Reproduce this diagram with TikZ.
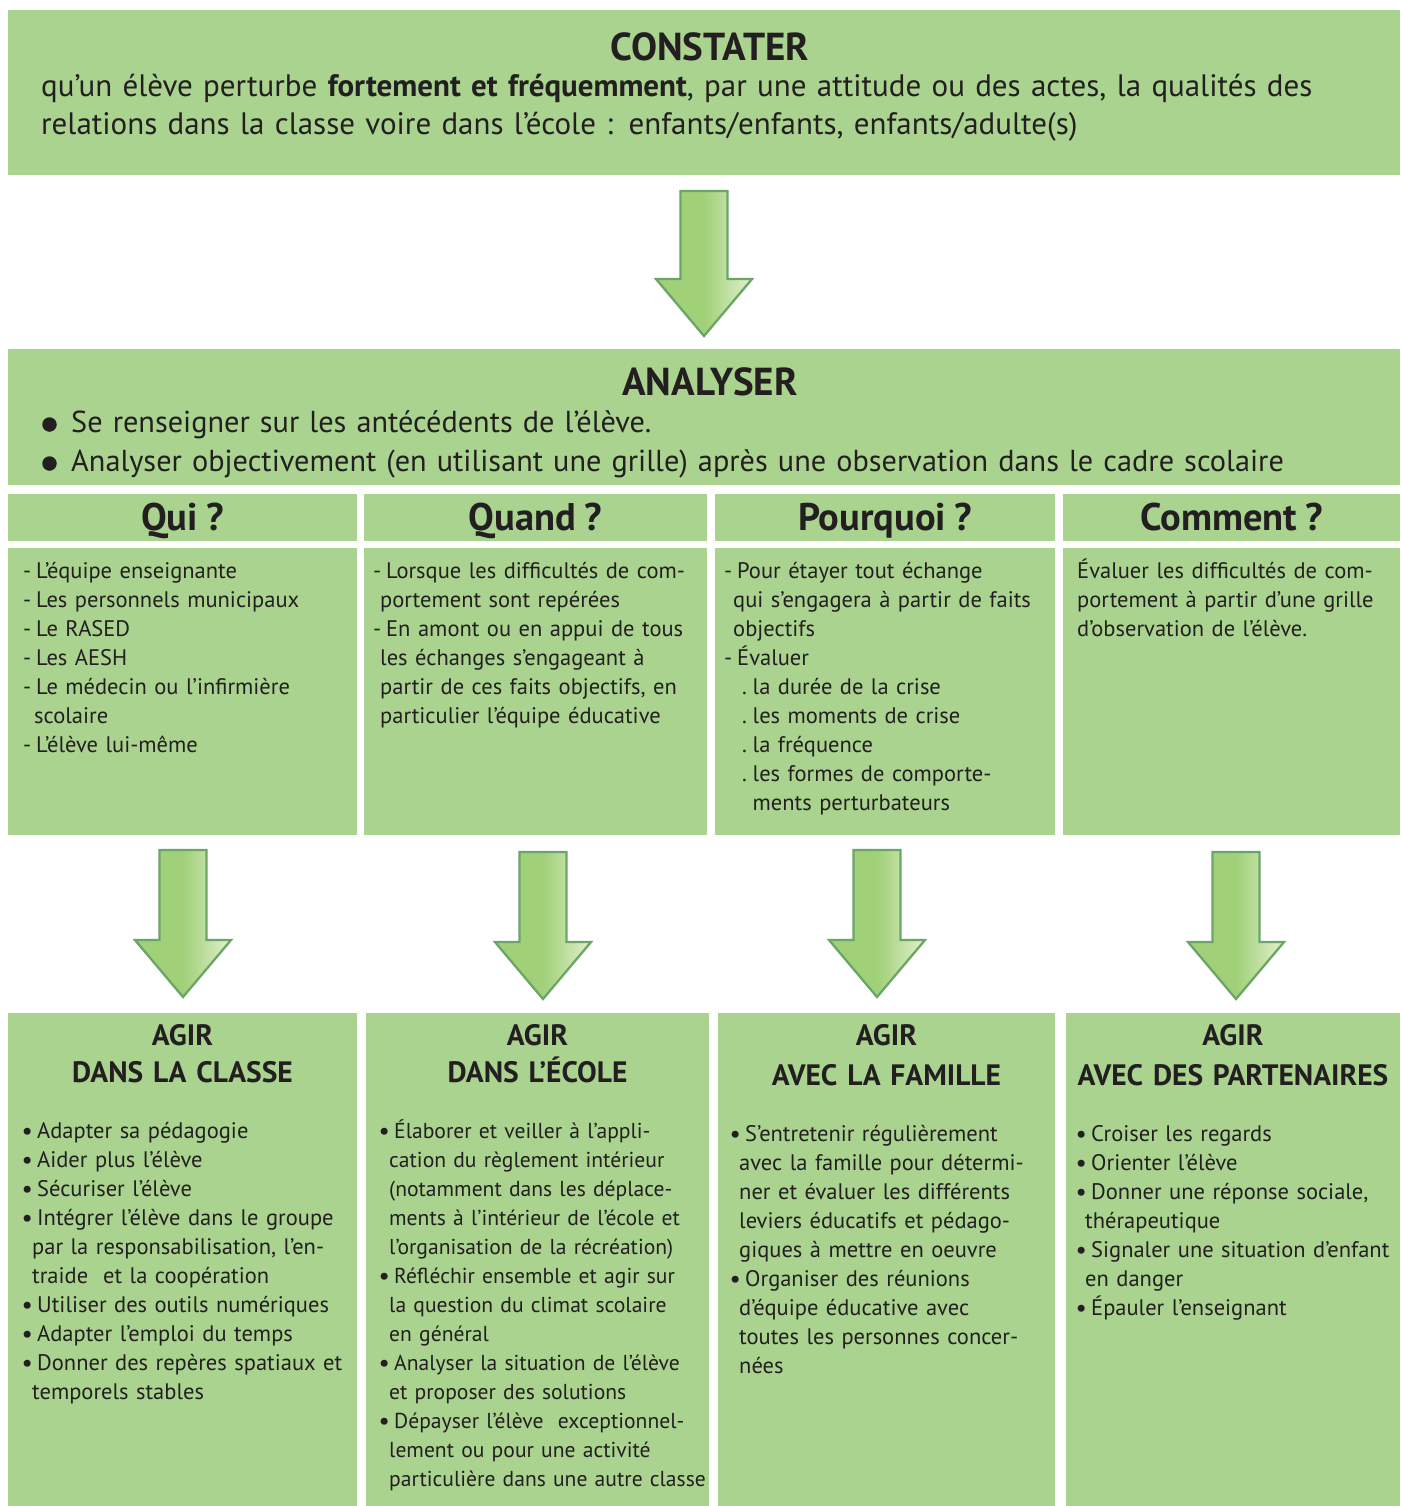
\documentclass[tikz,border=0pt]{standalone}
\usepackage{fontspec}
\setmainfont{PT Sans}[WordSpace=0.85]
\usetikzlibrary{calc,positioning}
\definecolor{boxgreen}{RGB}{169,211,142}
\definecolor{arrowgreen}{RGB}{160,208,120}
\definecolor{arrowlight}{RGB}{226,240,206}
\definecolor{arrowedge}{RGB}{108,165,104}
\definecolor{inkgray}{RGB}{35,31,32}

\newcommand{\itm}{\makebox[14pt][l]{\hspace*{-1.5pt}\raisebox{-1.5pt}{\fontsize{25}{25}\selectfont •}}}
\newcommand{\dsh}{\makebox[13pt][l]{-}}
\newcommand{\subitm}{\hspace*{18pt}\makebox[10.5pt][l]{.}}
\newcommand{\flowarrow}[2]{%
  \draw[flow arrow] ($(#1)+(-23.5,0)$) -- ($(#2)+(-23.5,-57)$) -- ($(#2)+(-48,-57)$)
    -- (#2) -- ($(#2)+(48,-57)$) -- ($(#2)+(23.5,-57)$) -- ($(#1)+(23.5,0)$) -- cycle;}

\begin{document}
\begin{tikzpicture}[x=1pt, y=-1pt,
    panel/.style={fill=boxgreen, inner sep=0pt, outer sep=0pt, anchor=north west},
    title/.style={font=\fontsize{39}{39}\selectfont\bfseries, text=inkgray, inner sep=0pt, anchor=base},
    head/.style={font=\fontsize{38.5}{38.5}\selectfont\bfseries, text=inkgray, inner sep=0pt, anchor=base},
    agir/.style={font=\fontsize{29.5}{37}\selectfont\bfseries, text=inkgray, inner sep=0pt, anchor=base, text width=330pt, align=center},
    lead/.style={text=inkgray, inner sep=0pt, anchor=base west, text width=1340pt, align=left},
    list/.style={font=\fontsize{22.5}{29}\selectfont, text=inkgray, inner sep=0pt, anchor=base west, text width=340pt, align=left},
    bigbullet/.style={circle, fill=inkgray, minimum size=14.5pt, inner sep=0pt},
    flow arrow/.style={draw=arrowedge, line width=2.3pt, line join=miter, left color=arrowgreen, right color=arrowlight, middle color=arrowgreen}
]

% Background
\fill[white] (0,0) rectangle (1400,1506);
\useasboundingbox (0,0) rectangle (1400,1506);

% === CONSTATER ===
\node[panel, minimum width=1392pt, minimum height=165pt] (constater) at (8,10) {};
\node[title] (constater title) at (710,61) {CONSTATER};
\node[lead, font=\fontsize{31}{38}\selectfont] (constater text) at (41,97) {qu’un élève perturbe \textbf{fortement et fréquemment}, par une attitude ou des actes, la qualités des\\
  relations dans la classe voire dans l’école : enfants/enfants, enfants/adulte(s)};

\coordinate (arr top) at (704,191);
\coordinate (arr tip) at (704,336);
\flowarrow{arr top}{arr tip}

% === ANALYSER ===
\node[panel, minimum width=1392pt, minimum height=136pt] (analyser) at (8,349) {};
\node[title] (analyser title) at (710,395) {ANALYSER};
\node[bigbullet] (dot a) at (49.5,424.5) {};
\node[bigbullet] (dot b) at (49.5,463.5) {};
\node[lead, font=\fontsize{30.3}{39}\selectfont] (analyser text) at (71,432) {Se renseigner sur les antécédents de l’élève.\\
  Analyser objectivement (en utilisant une grille) après une observation dans le cadre scolaire};

% Question headers
\node[panel, minimum width=349pt, minimum height=47pt] (qui) at (8,494) {};
\node[panel, minimum width=343pt, minimum height=47pt] (quand) at (364,494) {};
\node[panel, minimum width=340pt, minimum height=47pt] (pourquoi) at (715,494) {};
\node[panel, minimum width=337pt, minimum height=47pt] (comment) at (1063,494) {};
\node[head] (qui title) at ([yshift=-12.5pt]qui.center) {Qui ?};
\node[head] (quand title) at ([yshift=-12.5pt]quand.center) {Quand ?};
\node[head] (pourquoi title) at ([yshift=-12.5pt]pourquoi.center) {Pourquoi ?};
\node[head] (comment title) at ([yshift=-12.5pt]comment.center) {Comment ?};

% Question bodies
\node[panel, minimum width=349pt, minimum height=287pt] (qui body) at (8,548) {};
\node[panel, minimum width=343pt, minimum height=287pt] (quand body) at (364,548) {};
\node[panel, minimum width=340pt, minimum height=287pt] (pourquoi body) at (715,548) {};
\node[panel, minimum width=337pt, minimum height=287pt] (comment body) at (1063,548) {};

\node[list] (qui text) at (23,578) {\dsh L’équipe enseignante\\
  \dsh Les personnels municipaux\\
  \dsh Le RASED\\
  \dsh Les AESH\\
  \dsh Le médecin ou l’infirmière\\
  \hspace*{11pt}scolaire\\
  \dsh L’élève lui-même};
\node[list] (quand text) at (373,578) {\dsh Lorsque les difficultés de com-\\
  \hspace*{7pt}portement sont repérées\\
  \dsh En amont ou en appui de tous\\
  \hspace*{7pt}les échanges s’engageant à\\
  \hspace*{7pt}partir de ces faits objectifs, en\\
  \hspace*{7pt}particulier l’équipe éducative};
\node[list] (pourquoi text) at (724,578) {\dsh Pour étayer tout échange\\
  \hspace*{9pt}qui s’engagera à partir de faits\\
  \hspace*{9pt}objectifs\\
  \dsh Évaluer\\
  \subitm la durée de la crise\\
  \subitm les moments de crise\\
  \subitm la fréquence\\
  \subitm les formes de comporte-\\
  \hspace*{28.5pt}ments perturbateurs};
\node[list] (comment text) at (1077,578) {Évaluer les difficultés de com-\\
  portement à partir d’une grille\\
  d’observation de l’élève.};

% === Arrows down ===
\coordinate (arr a top) at (183,850);
\coordinate (arr a tip) at (183,997);
\coordinate (arr b top) at (543,852);
\coordinate (arr b tip) at (543,999);
\coordinate (arr c top) at (877,850);
\coordinate (arr c tip) at (877,997);
\coordinate (arr d top) at (1236,852);
\coordinate (arr d tip) at (1236,999);
\flowarrow{arr a top}{arr a tip}
\flowarrow{arr b top}{arr b tip}
\flowarrow{arr c top}{arr c tip}
\flowarrow{arr d top}{arr d tip}

% === AGIR ===
\node[panel, minimum width=349pt, minimum height=493pt] (classe) at (8,1013) {};
\node[panel, minimum width=343pt, minimum height=493pt] (ecole) at (366,1013) {};
\node[panel, minimum width=337pt, minimum height=493pt] (famille) at (718,1013) {};
\node[panel, minimum width=334pt, minimum height=493pt] (partenaires) at (1066,1013) {};
\node[agir] (classe title) at ([yshift=-32pt]classe.north) {AGIR\\DANS LA CLASSE};
\node[agir] (ecole title) at ([yshift=-32pt]ecole.north) {AGIR\\DANS L’ÉCOLE};
\node[agir] (famille title) at ([yshift=-32pt]famille.north) {AGIR\\[3pt]AVEC LA FAMILLE};
\node[agir] (partenaires title) at ([yshift=-32pt]partenaires.north) {AGIR\\[3pt]AVEC DES PARTENAIRES};

\node[list] (classe text) at (23,1138) {\itm Adapter sa pédagogie\\
  \itm Aider plus l’élève\\
  \itm Sécuriser l’élève\\
  \itm Intégrer l’élève dans le groupe\\
  \hspace*{9pt}par la responsabilisation, l’en-\\
  \hspace*{9pt}traide\ \ et la coopération\\
  \itm Utiliser des outils numériques\\
  \itm Adapter l’emploi du temps\\
  \itm Donner des repères spatiaux et\\
  \hspace*{9pt}temporels stables};
\node[list, font=\fontsize{21.6}{29}\selectfont] (ecole text) at (380,1138) {\itm Élaborer et veiller à l’appli-\\
  \hspace*{9pt}cation du règlement intérieur\\
  \hspace*{9pt}(notamment dans les déplace-\\
  \hspace*{9pt}ments à l’intérieur de l’école et\\
  \hspace*{9pt}l’organisation de la récréation)\\
  \itm Réfléchir ensemble et agir sur\\
  \hspace*{9pt}la question du climat scolaire\\
  \hspace*{9pt}en général\\
  \itm Analyser la situation de l’élève\\
  \hspace*{9pt}et proposer des solutions\\
  \itm Dépayser l’élève\ \ exceptionnel-\\
  \hspace*{9pt}lement ou pour une activité\\
  \hspace*{9pt}particulière dans une autre classe};
\node[list] (famille text) at (731,1141) {\itm S’entretenir régulièrement\\
  \hspace*{8pt}avec la famille pour détermi-\\
  \hspace*{8pt}ner et évaluer les différents\\
  \hspace*{8pt}leviers éducatifs et pédago-\\
  \hspace*{8pt}giques à mettre en oeuvre\\
  \itm Organiser des réunions\\
  \hspace*{8pt}d’équipe éducative avec\\
  \hspace*{8pt}toutes les personnes concer-\\
  \hspace*{8pt}nées};
\node[list] (partenaires text) at (1077,1141) {\itm Croiser les regards\\
  \itm Orienter l’élève\\
  \itm Donner une réponse sociale,\\
  \hspace*{8pt}thérapeutique\\
  \itm Signaler une situation d’enfant\\
  \hspace*{8pt}en danger\\
  \itm Épauler l’enseignant};

\end{tikzpicture}
\end{document}
